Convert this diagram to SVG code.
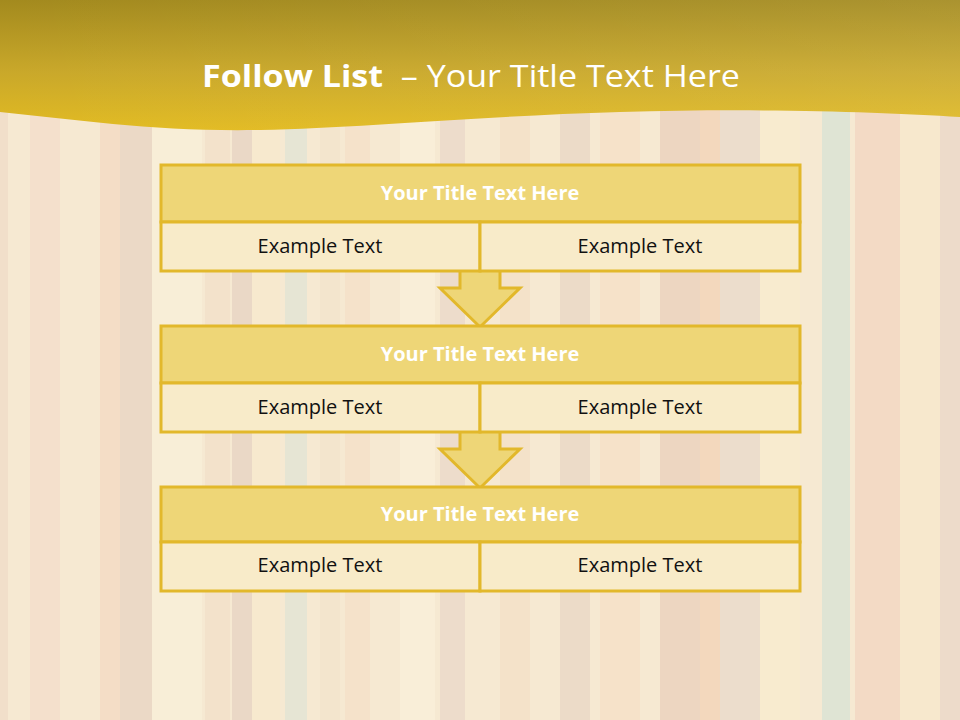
<svg xmlns="http://www.w3.org/2000/svg" width="960" height="720" viewBox="0 0 960 720">
<defs>
<linearGradient id="hdr" x1="0" y1="0" x2="0" y2="1">
<stop offset="0" stop-color="#a38a1e"/>
<stop offset="0.55" stop-color="#c9a82a"/>
<stop offset="1" stop-color="#e2bb22"/>
</linearGradient>
<linearGradient id="hdrR" x1="0" y1="0" x2="1" y2="0">
<stop offset="0" stop-color="#ffffff" stop-opacity="0"/>
<stop offset="1" stop-color="#ffffff" stop-opacity="0.08"/>
</linearGradient>
<style>
.title{fill:#eed677;stroke:#e2b82b;stroke-width:3}
.cell{fill:#f8ebc9;stroke:#e2b82b;stroke-width:3}
.arrow{fill:#eed677;stroke:#e2b82b;stroke-width:3;stroke-linejoin:miter}
.tt{font-family:"Open Sans","Liberation Sans",sans-serif;font-weight:bold;font-size:20px;fill:#ffffff;text-anchor:middle}
.et{font-family:"Open Sans","Liberation Sans",sans-serif;font-size:20px;fill:#111111;text-anchor:middle}
</style>
</defs>
<g id="background">
<rect x="0" y="0" width="960" height="720" fill="#f5e6cc"/>
<rect x="0" y="0" width="8" height="720" fill="#eed8c2"/>
<rect x="30" y="0" width="30" height="720" fill="#f2dac4"/>
<rect x="100" y="0" width="20" height="720" fill="#f2d6bc"/>
<rect x="120" y="0" width="32" height="720" fill="#e6d1bd"/>
<rect x="152" y="0" width="50" height="720" fill="#f7ecd3"/>
<rect x="205" y="0" width="25" height="720" fill="#f1dcc3"/>
<rect x="232" y="0" width="20" height="720" fill="#e4cfbd"/>
<rect x="252" y="0" width="28" height="720" fill="#f6e6c7"/>
<rect x="285" y="0" width="22" height="720" fill="#dfe1cf"/>
<rect x="320" y="0" width="20" height="720" fill="#f1e0c6"/>
<rect x="345" y="0" width="25" height="720" fill="#f3ddc2"/>
<rect x="400" y="0" width="35" height="720" fill="#f8edd5"/>
<rect x="440" y="0" width="25" height="720" fill="#e8d5c3"/>
<rect x="500" y="0" width="30" height="720" fill="#f2dcc0"/>
<rect x="560" y="0" width="30" height="720" fill="#e7d3bf"/>
<rect x="600" y="0" width="40" height="720" fill="#f5dcc0"/>
<rect x="660" y="0" width="40" height="720" fill="#e9cdb6"/>
<rect x="700" y="0" width="20" height="720" fill="#f1cfb1"/>
<rect x="720" y="0" width="40" height="720" fill="#e7d6c4"/>
<rect x="760" y="0" width="40" height="720" fill="#f7e8c8"/>
<rect x="822" y="0" width="28" height="720" fill="#d6dfcf"/>
<rect x="855" y="0" width="45" height="720" fill="#f0d2bb"/>
<rect x="900" y="0" width="40" height="720" fill="#f6e4c6"/>
<rect x="940" y="0" width="20" height="720" fill="#e9d3c2"/>
<rect x="0" y="0" width="960" height="720" fill="#fbf3e4" opacity="0.25"/>
</g>
<g id="header">
<path d="M0,0 H960 V117 C880,112 760,108 620,112 C480,116 360,128 260,130 C160,132 80,120 0,112 Z" fill="url(#hdr)"/>
<path d="M0,0 H960 V117 C880,112 760,108 620,112 C480,116 360,128 260,130 C160,132 80,120 0,112 Z" fill="url(#hdrR)"/>
<text x="471" y="87" font-family="'Open Sans','Liberation Sans',sans-serif" font-size="31" fill="#ffffff" text-anchor="middle" textLength="538" lengthAdjust="spacingAndGlyphs" style="white-space:pre"><tspan font-weight="bold">Follow List</tspan>  – Your Title Text Here</text>
</g>
<g id="connectors">
<path class="arrow" d="M460,271 V288 H440 L480,327 L520,288 H500 V271"/>
<path class="arrow" d="M460,432 V449 H440 L480,488 L520,449 H500 V432"/>
</g>
<g id="node1">
<rect class="title" x="161" y="165" width="639" height="57"/>
<rect class="cell" x="161" y="222" width="319" height="49"/>
<rect class="cell" x="480" y="222" width="320" height="49"/>
<text class="tt" x="480" y="200">Your Title Text Here</text>
<text class="et" x="320" y="253">Example Text</text>
<text class="et" x="640" y="253">Example Text</text>
</g>
<g id="node2">
<rect class="title" x="161" y="326" width="639" height="57"/>
<rect class="cell" x="161" y="383" width="319" height="49"/>
<rect class="cell" x="480" y="383" width="320" height="49"/>
<text class="tt" x="480" y="361">Your Title Text Here</text>
<text class="et" x="320" y="414">Example Text</text>
<text class="et" x="640" y="414">Example Text</text>
</g>
<g id="node3">
<rect class="title" x="161" y="487" width="639" height="55"/>
<rect class="cell" x="161" y="542" width="319" height="49"/>
<rect class="cell" x="480" y="542" width="320" height="49"/>
<text class="tt" x="480" y="521">Your Title Text Here</text>
<text class="et" x="320" y="572">Example Text</text>
<text class="et" x="640" y="572">Example Text</text>
</g>
</svg>
